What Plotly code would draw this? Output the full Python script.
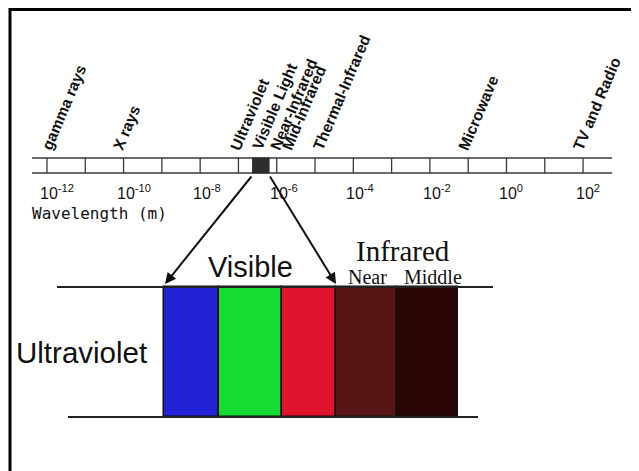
import plotly.graph_objects as go

# ---------------- data ----------------
# top spectrum: decade tick exponents (log10 of wavelength in metres)
tick_exponents = list(range(-12, 3))
label_exponents = [-12, -10, -8, -6, -4, -2, 0, 2]
bar_extent = [-12.39, 2.76]            # ends of the spectrum strip (log10 m)
visible_box = [-6.63, -6.20]           # highlighted visible-light box (log10 m)

# rotated region names and where their text starts (log10 m)
region_names = ["gamma rays", "X rays", "Ultraviolet", "Visible Light",
                "Near-Infrared", "Mid-Infrared", "Thermal-Infrared",
                "Microwave", "TV and Radio"]
region_starts = [-12.0, -10.15, -7.09, -6.51, -6.04, -5.73, -4.92, -1.13, 1.87]

# bottom detail: band edges (px scale of the detail panel) and colours
band_names = ["Blue", "Green", "Red", "Near IR", "Middle IR"]
band_edges = [164, 219, 282, 336, 397, 458]
band_colors = ["#2121d6", "#14dc32", "#e0142d", "#561616", "#2a0505"]

# ---------------- layout constants ----------------
W, H = 639, 471          # window size
OFF = 8                  # page body margin
PX_PER_DEC = 38.29
XMIN = -12 - (47 - OFF) / PX_PER_DEC
XMAX = XMIN + (W - OFF) / PX_PER_DEC
BAR_TOP, BAR_BOT = 158, 173
DET_TOP, DET_BOT = 287, 417


def to_px(e):
    return OFF + (e - XMIN) * PX_PER_DEC


fig = go.Figure()

# spectrum strip horizontal lines
fig.add_trace(go.Scatter(
    x=[bar_extent[0], bar_extent[1], None, bar_extent[0], bar_extent[1]],
    y=[BAR_TOP, BAR_TOP, None, BAR_BOT, BAR_BOT],
    mode="lines", line=dict(color="#3a3a3a", width=1.5),
    xaxis="x", yaxis="y", hoverinfo="skip", showlegend=False))

# decade ticks inside strip
tx, ty = [], []
for e in tick_exponents:
    tx += [e, e, None]
    ty += [BAR_TOP, BAR_BOT, None]
fig.add_trace(go.Scatter(x=tx, y=ty, mode="lines",
                         line=dict(color="#3a3a3a", width=1.3),
                         xaxis="x", yaxis="y", hoverinfo="skip", showlegend=False))

# visible box
fig.add_shape(type="rect", xref="x", yref="y",
              x0=visible_box[0], x1=visible_box[1], y0=BAR_TOP, y1=BAR_BOT,
              fillcolor="#2e2e2e", line=dict(color="#2e2e2e", width=1))

# detail bands
centers = [(band_edges[i] + band_edges[i + 1]) / 2 for i in range(len(band_names))]
widths = [band_edges[i + 1] - band_edges[i] for i in range(len(band_names))]
fig.add_trace(go.Bar(
    x=centers, y=[DET_BOT - DET_TOP] * len(centers), base=DET_TOP, width=widths,
    marker=dict(color=band_colors, line=dict(color="#111111", width=1.5)),
    xaxis="x2", yaxis="y", hoverinfo="skip", showlegend=False, name=""))

# detail horizontal lines
fig.add_trace(go.Scatter(
    x=[57, 493, None, 68, 478], y=[DET_TOP, DET_TOP, None, DET_BOT, DET_BOT],
    mode="lines", line=dict(color="#222222", width=2),
    xaxis="x2", yaxis="y", hoverinfo="skip", showlegend=False))

# frame
fig.add_trace(go.Scatter(
    x=[10, 10, 636, 636], y=[490, 9.5, 9.5, 490], mode="lines",
    line=dict(color="black", width=3),
    xaxis="x2", yaxis="y", hoverinfo="skip", showlegend=False))

ann = []
# tick labels
for e in label_exponents:
    ann.append(dict(x=e, y=204, xref="x", yref="y", xanchor="left", yanchor="bottom",
                    xshift=-9, text=f"10<sup>{e}</sup>", showarrow=False,
                    font=dict(family="Liberation Sans, Arial", size=16, color="#111")))

ann.append(dict(x=30, y=213, xref="x2", yref="y", xanchor="left", yanchor="middle",
                text="Wavelength (m)", showarrow=False,
                font=dict(family="DejaVu Sans Mono", size=16, color="#111")))

# rotated region names
for name, s in zip(region_names, region_starts):
    ann.append(dict(x=s, y=155, xref="x", yref="y", xanchor="left", yanchor="bottom",
                    xshift=-11, text=name, textangle=-67, showarrow=False,
                    font=dict(family="Liberation Sans, Arial", size=15.5, color="#111",
                              weight="bold")))

# arrows
for tail_e, head_px in [(visible_box[0], band_edges[0] + 1), (visible_box[1], band_edges[3])]:
    ann.append(dict(x=head_px, y=DET_TOP - 3, xref="x2", yref="y",
                    ax=to_px(tail_e), ay=BAR_BOT + 2, axref="x2", ayref="y",
                    text="", showarrow=True, arrowhead=2, arrowsize=1.1,
                    arrowwidth=2, arrowcolor="#111", standoff=0, startstandoff=0))

ann.append(dict(x=250, y=267, xref="x2", yref="y", text="Visible", showarrow=False,
                font=dict(family="Liberation Sans, Arial", size=29, color="#111")))
ann.append(dict(x=81, y=352, xref="x2", yref="y", text="Ultraviolet", showarrow=False,
                font=dict(family="Liberation Sans, Arial", size=29.5, color="#111")))
ann.append(dict(x=403, y=251, xref="x2", yref="y", text="Infrared", showarrow=False,
                font=dict(family="Liberation Serif, Times New Roman", size=29, color="#111")))
ann.append(dict(x=367, y=277, xref="x2", yref="y", text="Near", showarrow=False,
                font=dict(family="Liberation Serif, Times New Roman", size=20, color="#111")))
ann.append(dict(x=433, y=277, xref="x2", yref="y", text="Middle", showarrow=False,
                font=dict(family="Liberation Serif, Times New Roman", size=20, color="#111")))

fig.update_layout(
    width=W - OFF, height=H - OFF, margin=dict(l=0, r=0, t=0, b=0),
    paper_bgcolor="white", plot_bgcolor="white",
    xaxis=dict(range=[XMIN, XMAX], visible=False, domain=[0, 1], fixedrange=True),
    xaxis2=dict(range=[OFF, W], visible=False, overlaying="x", fixedrange=True),
    yaxis=dict(range=[H, OFF], visible=False, domain=[0, 1], fixedrange=True),
    annotations=ann, bargap=0, showlegend=False,
)

fig.write_html("out.html")
